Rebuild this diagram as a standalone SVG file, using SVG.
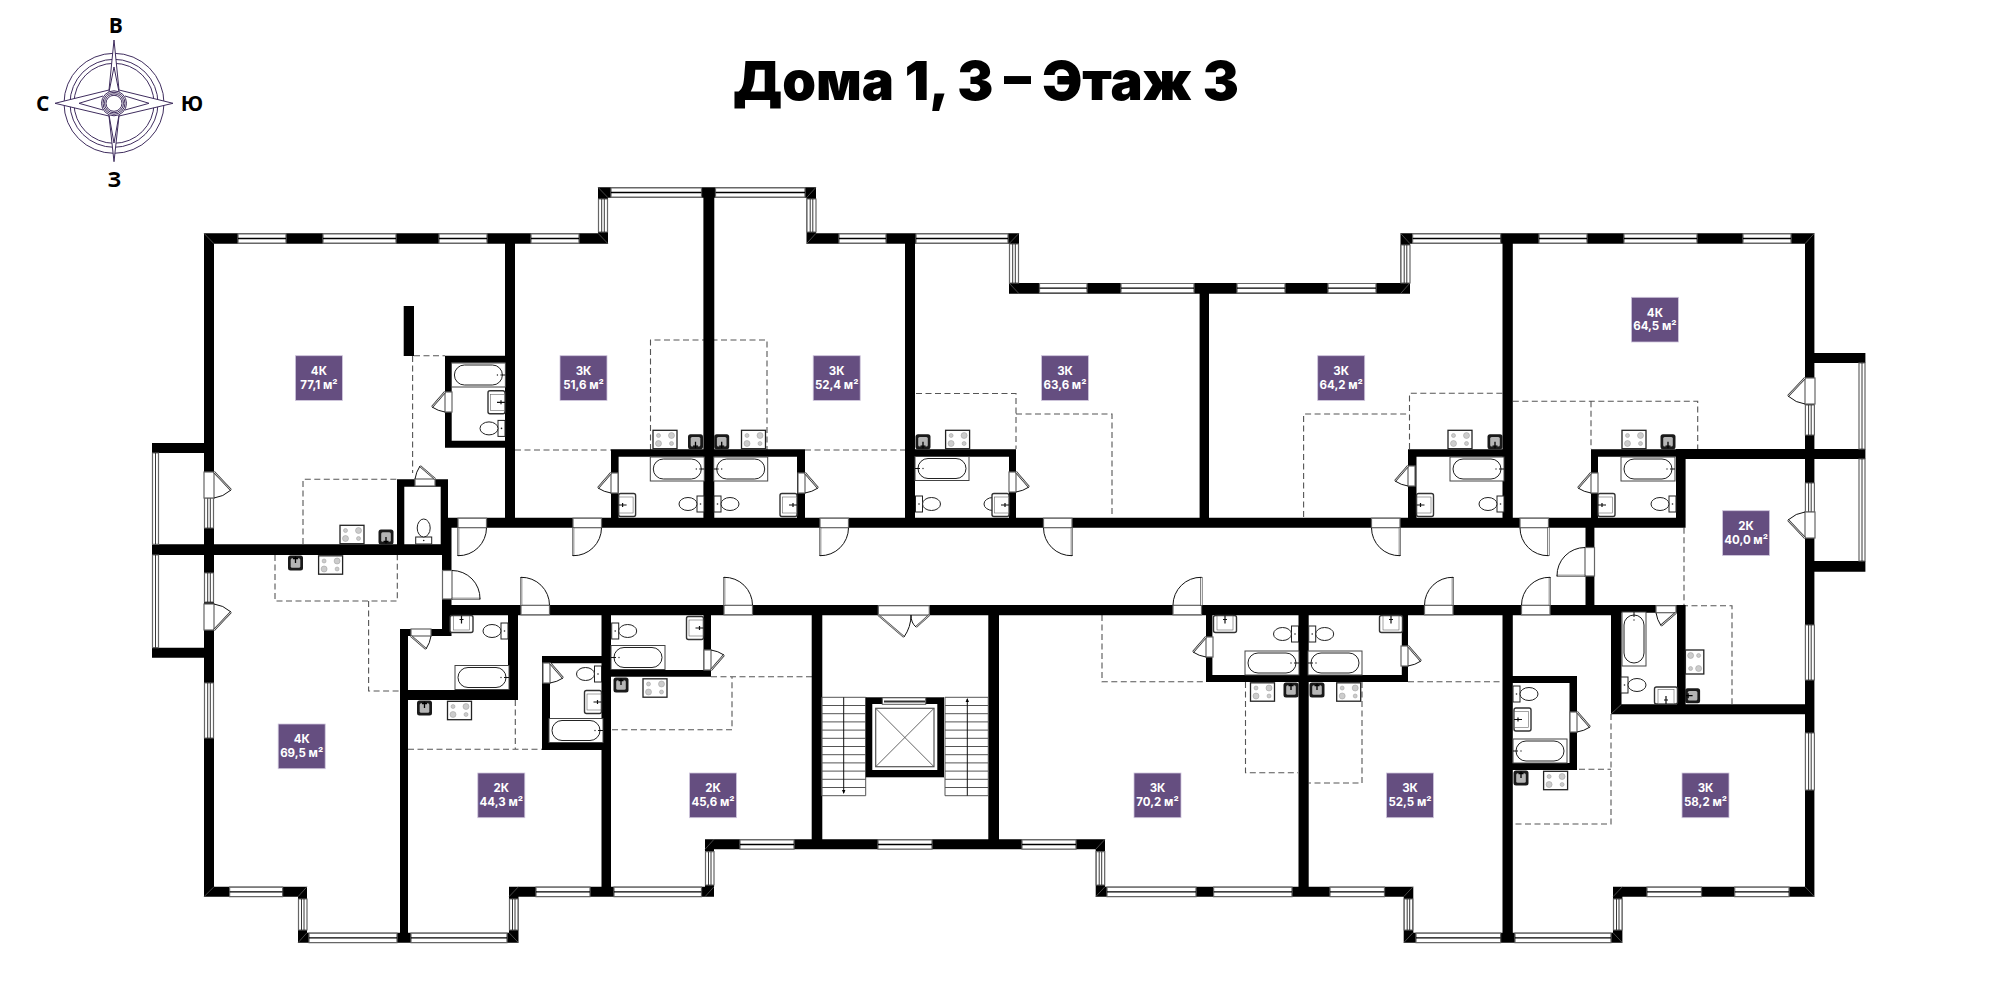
<svg xmlns="http://www.w3.org/2000/svg" xmlns:xlink="http://www.w3.org/1999/xlink" width="2000" height="1000" viewBox="0 0 2000 1000">
<style>
.wall{fill:#000}
.wf{fill:#fff;stroke:#666;stroke-width:1.2}
.wl{fill:none;stroke:#000;stroke-width:1.3}
.wv{fill:none;stroke:#222;stroke-width:.9}
.mit{fill:none;stroke:#666;stroke-width:.7}
.dash{fill:none;stroke:#555;stroke-width:1.1;stroke-dasharray:6 3.5}
.ln{fill:none;stroke:#111;stroke-width:1}
.lg{fill:none;stroke:#555;stroke-width:1}
.lb{fill:#654e80;stroke:#cfc6dc;stroke-width:.8}
.t{font-family:Inter,"Open Sans",sans-serif;font-weight:700;font-size:11.500px;fill:#fff;text-anchor:middle}
.title{font-family:Inter,"Liberation Sans",sans-serif;font-weight:900;font-size:54px;fill:#000;text-anchor:middle}
.cp{font-family:"Open Sans","Liberation Sans",sans-serif;font-weight:700;font-size:21px;fill:#000;text-anchor:middle}
.cl{fill:none;stroke:#3f2d5e;stroke-width:1}
</style>
<defs>
<g id="door"><rect class="wf" x="0" y="0.5" width="28.5" height="9.5"/><rect x="-.7" y="10" width="1.6" height="28" fill="#fff" stroke="#333" stroke-width=".6"/><path class="ln" d="M0 38A28 28 0 0 0 28.5 10"/></g>
<g id="bd"><rect class="wf" x="0" y="0" width="7" height="20"/><path d="M0 0L-13 15" fill="none" stroke="#333" stroke-width="2.2"/><path d="M0 0L-13 15" fill="none" stroke="#fff" stroke-width=".8"/><path class="ln" d="M-13 15Q-7 19 0 20"/></g>
<g id="bb"><rect class="wf" x="0" y="0" width="10" height="26"/><path d="M0 0L-17 18" fill="none" stroke="#333" stroke-width="2.2"/><path d="M0 0L-17 18" fill="none" stroke="#fff" stroke-width=".8"/><path class="ln" d="M-17 18Q-9 25 0 26"/></g>
<g id="bath"><rect x="-27" y="-12" width="54" height="24" fill="#fff" stroke="#444" stroke-width="1"/><rect x="-24" y="-10" width="48" height="20" rx="10" fill="#fff" stroke="#222" stroke-width="1"/><circle cx="19" cy="0" r=".7" fill="#222"/><path class="ln" d="M22 0H27"/></g>
<g id="wc"><rect x="-7" y="-8" width="7" height="16" fill="#fff" stroke="#222" stroke-width="1"/><ellipse cx="-16" cy="0" rx="9" ry="6.5" fill="#fff" stroke="#222" stroke-width="1"/><circle cx="-3.5" cy="0" r=".8" fill="#222"/></g>
<g id="sk"><rect x="-17" y="-11.5" width="17" height="23" rx="2" fill="#fff" stroke="#333" stroke-width="1.4"/><rect x="-14.5" y="-8" width="14" height="16" fill="#fff" stroke="#666" stroke-width=".6"/><path d="M-8 0H0M-4 -2V2" stroke="#111" stroke-width="1.2"/></g>
<g id="st"><rect x="-12" y="-9.2" width="24" height="18.4" fill="#fff" stroke="#222" stroke-width="1.3"/><g fill="#ccc" stroke="#999" stroke-width=".5"><circle cx="-6.5" cy="-4" r="2"/><circle cx="6.5" cy="-4" r="3"/><circle cx="-6.5" cy="4" r="3"/><circle cx="6.5" cy="4" r="2"/></g></g>
<g id="ks"><rect x="-7.5" y="-7.5" width="15" height="15" rx="2.500" fill="#1a1a1a"/><rect x="-4.800" y="-4.800" width="9.600" height="9.600" rx="1.500" fill="#b5b5b5"/><path d="M0 0V6.500M-2.500 4.500H2.500" stroke="#000" stroke-width="1.300"/></g>
</defs>
<rect width="2000" height="1000" fill="#fff"/>

<text class="title" x="986" y="100" textLength="506" lengthAdjust="spacingAndGlyphs">Дома 1, 3 – Этаж 3</text>

<g id="compass">
<circle class="cl" cx="114" cy="103.3" r="50"/><circle class="cl" cx="114" cy="103.3" r="44"/><circle class="cl" cx="114" cy="103.3" r="40"/>
<path class="cl" style="fill:#fff" d="M114 40L119 90L173 103.3L119 116L114 161.7L109 116L55 103.3L109 90Z"/>
<path class="cl" d="M114 67L119 92M114 67L109 92M114 143L119 115M114 143L109 115M149 103.3L125 96M149 103.3L125 110M79 103.3L103 96M79 103.3L103 110"/>
<circle class="cl" style="fill:#fff" cx="114" cy="103.3" r="12.5"/><circle class="cl" cx="114" cy="103.3" r="11"/><circle class="cl" cx="114" cy="103.3" r="9.5"/><circle class="cl" cx="114" cy="103.3" r="8"/>
<text class="cp" x="115.7" y="33">В</text><text class="cp" x="42.7" y="110.500">С</text><text class="cp" x="192" y="110.500">Ю</text><text class="cp" x="114.3" y="187">З</text>
</g>

<g id="dashed">
<path class="dash" d="M414 355.7H445M412.6 356V473M515 450H611M650.5 450V340H767V450M805 450H905M916 393.5H1016V449M1016 414H1112V517M1303.6 517V414H1409.5M1409.5 449V393.3H1502.5M1512.8 401.3H1697.7V449M1591 401.3V449M303 544V479.3H397M275 555V601H397.3V555M368.6 601V691H400M408 749.3H542M515.3 700V749.3M612 729.7H732V676.7M711 676.7H812M1102 615V681.7H1206M1408 681.7H1502.5M1245.5 682V772.7H1298M1362 682V783H1308.7M1611 714V824H1514.7M1569.5 769.3H1611M1684 527.7V605.7H1732V704"/>
</g>

<g id="walls">
<path class="wall" d="M204 233.3H608V243.7H204ZM598 187.3H816V197.7H598ZM598 187.3H608V243.7H598ZM806.5 187.3H816V243.7H806.5ZM806.5 233.3H1019V243.7H806.5ZM1009 233.3H1019V293.7H1009ZM1009 283H1410V293.7H1009ZM1400.5 233.3H1410V293.7H1400.5ZM1400.5 233.3H1814.4V243.7H1400.5ZM1805 233.3H1814.4V896.7H1805ZM204 233.3H214V896.7H204Z
M505 233.3H515V527.7H505ZM703.4 187.3H714.3V527.7H703.4ZM905 233.3H915V527.7H905ZM1199.6 283H1209V527.7H1199.6ZM1502.5 233.3H1512.8V527.7H1502.5Z
M403.7 306H414V356H403.7ZM445 355.7H505V362.7H445ZM445 355.7H451.7V447.7H445ZM445 440.7H505V447.7H445ZM397 479.3H448V486.7H397ZM397 479.3H404.3V555H397ZM440.7 479.3H448V555H440.7Z
M611 449.3H805V456.7H611ZM611 449.3H618.6V527.7H611ZM797 449.3H805V527.7H797ZM905 449.3H1016V456.7H905ZM1009 449.3H1016V527.7H1009ZM1408 449.3H1512.8V456.7H1408ZM1408 449.3H1416.5V527.7H1408ZM1591 449.3H1684V456.7H1591ZM1591 449.3H1598V527.7H1591ZM1676 449.3H1685.6V527.7H1676ZM1677 605H1685.6V714H1677ZM1676 449H1865.4V459H1676ZM1805 353H1865.4V363H1805ZM1805 561H1865.4V571.7H1805Z
M442 517.7H1684V527.7H442ZM442 605H1612V615.3H442ZM1612 605H1684V612.7H1612ZM442 517.7H451.5V636H442ZM1585.5 527.7H1594.4V615H1585.5ZM1611 605H1621.5V714H1611ZM1611 704.3H1814.4V714.3H1611Z
M152 544.3H451.5V555H152ZM152 443H204V453H152ZM152 647.7H204V657.7H152Z
M400 629H451.5V636H400ZM400 629H408V942.7H400ZM400 690H518V700H400ZM508 605H518V700H508ZM542 656H611V663.3H542ZM542 656H550V750H542ZM542 743H611V750H542ZM601.5 605H611V896.7H601.5ZM611 670H711V676.7H611ZM703.5 605H711V676.7H703.5Z
M811.7 605H822.3V849H811.7ZM988.3 605H999V849H988.3ZM705 839.3H1105V849.3H705ZM705 839.3H714V896.7H705ZM1095.7 839.3H1105V896.7H1095.7Z
M204 886.7H307V896.7H204ZM298 886.7H307V942.7H298ZM298 932.7H518.5V942.7H298ZM509 886.7H518.5V942.7H509ZM509 886.7H714V896.7H509ZM1095.7 886.7H1413V896.7H1095.7ZM1298.5 605H1308.7V896.7H1298.5ZM1502.5 605H1512.8V942.7H1502.5ZM1403.7 886.7H1413.3V942.7H1403.7ZM1403.7 932.7H1622.4V942.7H1403.7ZM1613 886.7H1622.4V942.7H1613ZM1613 886.7H1814.4V896.7H1613Z
M1512.8 676H1577V683H1512.8ZM1569.5 676H1577V770H1569.5ZM1512.8 763H1577V770H1512.8ZM1206 675H1408V682H1206ZM1206 605H1212.4V682H1206ZM1401.8 605H1408V682H1401.8Z"/>
<path class="mit" d="M204 233.3L214 243.7M598 187.3L608 197.7M816 187.3L806.500 197.700M598 233.300L608 243.700M816 233.300L806.500 243.700M1019 233.300L1009 243.700M1009 283L1019 293.700M1400.500 233.300L1410 243.700M1410 283L1400.500 293.700M1814.400 233.300L1805 243.700M204 896.700L214 886.700M307 886.700L298 896.700M298 942.700L307 932.700M518.500 942.700L509 932.700M509 896.700L518.500 886.700M705 849.300L714 839.300M714 886.700L705 896.700M1105 839.300L1095.700 849.300M1095.700 896.700L1105 886.700M1413 886.700L1403.700 896.700M1403.700 942.700L1413 932.700M1622.400 942.700L1613 932.700M1613 896.700L1622.400 886.700M1814.400 896.700L1805 886.700M1611 714L1621.500 704.300M865.700 697.300L872.300 704M944 697.300L937.300 704M865.700 777.300L872.300 770M944 777.300L937.300 770"/>
</g>

<g id="windows">
<path class="wf" d="M238 233.8h48v9.4h-48zM323 233.8h73v9.4h-73zM439 233.8h48v9.4h-48zM531 233.8h48v9.4h-48zM839 233.8h47v9.4h-47zM916 233.8h92v9.4h-92zM1412.6 233.8h88v9.4h-88zM1539 233.8h48v9.4h-48zM1624 233.8h73v9.4h-73zM1743 233.8h48v9.4h-48zM611 187.8h90.5v9.4h-90.5zM715.5 187.8h89.5v9.4h-89.5zM1039.5 283.5h47.5v9.4h-47.5zM1121 283.5h73v9.4h-73zM1237 283.5h48v9.4h-48zM1328 283.5h48v9.4h-48zM740 839.8h54v9.4h-54zM878 839.8h54v9.4h-54zM1022 839.8h54v9.4h-54zM229.6 887.2h53v9.4h-53zM536 887.2h54v9.4h-54zM614 887.2h87.5v9.4h-87.5zM1107 887.2h89v9.4h-89zM1213.6 887.2h78.4v9.4h-78.4zM1330 887.2h54.5v9.4h-54.5zM1647 887.2h54.5v9.4h-54.5zM1734.7 887.2h54.3v9.4h-54.3zM309 933.2h88v9.4h-88zM411 933.2h96v9.4h-96zM1416 933.2h84.6v9.4h-84.6zM1515 933.2h96v9.4h-96zM598.5 199h9v33h-9zM807 199h9v33h-9zM1009.5 244h9v39h-9zM1401 245h9v38h-9zM204.5 498h9v30h-9zM204.5 573h9v29h-9zM204.5 683h9v55h-9zM1805.4 405h9v30h-9zM1805.4 483h9v29h-9zM1805.4 625h9v55h-9zM1805.4 733h9v57h-9zM298.5 899h8.500v31h-8.500zM509.500 899h8.500v31h-8.500zM705.500 851.700h8.500v33.300h-8.500zM1096.200 851.700h8.500v33.300h-8.500zM1404.200 899h8.500v31h-8.500zM1613.500 899h8.500v31h-8.500zM152.500 453h6v91.300h-6zM152.500 555h6v92.700h-6zM1859 363h6v86h-6zM1859 459h6v102h-6z"/>
<path class="wl" d="M238 238.500h48M323 238.500h73M439 238.500h48M531 238.500h48M839 238.500h47M916 238.500h92M1412.600 238.500h88M1539 238.500h48M1624 238.500h73M1743 238.500h48M611 192.500h90.500M715.500 192.500h89.500M1039.500 288.200h47.500M1121 288.200h73M1237 288.200h48M1328 288.200h48M740 844.500h54M878 844.500h54M1022 844.500h54M229.600 891.900h53M536 891.900h54M614 891.900h87.500M1107 891.900h89M1213.600 891.900h78.400M1330 891.900h54.500M1647 891.900h54.500M1734.700 891.900h54.300M309 937.900h88M411 937.900h96M1416 937.900h84.600M1515 937.900h96"/>
<path class="wv" d="M601.700 199v33M604.300 199v33M810.200 199v33M812.800 199v33M1012.700 244v39M1015.300 244v39M1404.200 245v38M1406.800 245v38M207.700 498v30M210.300 498v30M207.700 573v29M210.300 573v29M207.700 683v55M210.300 683v55M1808.600 405v30M1811.200 405v30M1808.600 483v29M1811.200 483v29M1808.600 625v55M1811.200 625v55M1808.600 733v57M1811.200 733v57M301.500 899v31M304 899v31M512.500 899v31M515 899v31M708.500 851.700v33.300M711 851.700v33.300M1099.200 851.700v33.300M1101.700 851.700v33.300M1407.200 899v31M1409.700 899v31M1616.500 899v31M1619 899v31M155.500 453v91.300M155.500 555v92.700M1862 363v86M1862 459v102"/>
</g>

<g id="doors">
<use href="#door" transform="translate(458 517.700)"/><use href="#door" transform="translate(573 517.700)"/><use href="#door" transform="translate(820 517.700)"/>
<use href="#door" transform="translate(1072 517.700) scale(-1 1)"/><use href="#door" transform="translate(1400 517.700) scale(-1 1)"/><use href="#door" transform="translate(1548.500 517.700) scale(-1 1)"/>
<use href="#door" transform="translate(521 615.300) scale(1 -1)"/><use href="#door" transform="translate(724 615.300) scale(1 -1)"/>
<use href="#door" transform="translate(1201.500 615.300) scale(-1 -1)"/><use href="#door" transform="translate(1453 615.300) scale(-1 -1)"/><use href="#door" transform="translate(1550 615.300) scale(-1 -1)"/>
<use href="#door" transform="translate(442 599) rotate(-90)"/><use href="#door" transform="translate(1595 576) rotate(-90) scale(1 -1)"/>
<use href="#bd" transform="translate(445 392)"/><use href="#bd" transform="translate(611 473)"/><use href="#bd" transform="translate(805 473) scale(-1 1)"/><use href="#bd" transform="translate(1016 472) scale(-1 1)"/><use href="#bd" transform="translate(1408 466)"/><use href="#bd" transform="translate(1591 473)"/><use href="#bd" transform="translate(550 663) scale(-1 1)"/><use href="#bd" transform="translate(711 670) scale(-1 -1)"/><use href="#bd" transform="translate(1206 637)"/><use href="#bd" transform="translate(1408 646) scale(-1 1)"/><use href="#bd" transform="translate(1577 712) scale(-1 1)"/><use href="#bd" transform="translate(435 479) rotate(90)"/><use href="#bd" transform="translate(411 636) rotate(-90)"/><use href="#bd" transform="translate(1676 612.700) rotate(-90) scale(1 -1)"/>
<use href="#bb" transform="translate(214 472) scale(-1 1)"/><use href="#bb" transform="translate(214 630) scale(-1 -1)"/><use href="#bb" transform="translate(1805 378)"/><use href="#bb" transform="translate(1805 538) scale(1 -1)"/>
<g id="stair-door"><rect class="wf" x="878.300" y="605.700" width="51" height="9.300"/><path d="M878.300 615L904 637M929.300 615L916 627" fill="none" stroke="#444" stroke-width="2"/><path d="M878.300 615L904 637M929.300 615L916 627" fill="none" stroke="#fff" stroke-width=".7"/><path class="ln" d="M904 637Q911 627 911 615Q911 623 916 627"/></g>
</g>

<g id="core">
<path class="lg" d="M821.700 697.300H865.700V795.700H821.700ZM945 697.300H988.300V795.700H945ZM821.700 705.500H865.700M821.700 713.700H865.700M821.700 721.900H865.700M821.700 730.100H865.700M821.700 738.300H865.700M821.700 746.500H865.700M821.700 754.700H865.700M821.700 762.900H865.700M821.700 771.100H865.700M821.700 779.300H865.700M821.700 787.500H865.700M945 705.500H988.300M945 713.700H988.300M945 721.900H988.300M945 730.100H988.300M945 738.300H988.300M945 746.500H988.300M945 754.700H988.300M945 762.900H988.300M945 771.100H988.300M945 779.300H988.300M945 787.500H988.300"/>
<path class="ln" d="M843.700 697.300V793M967.300 699V795.700"/>
<path d="M843.700 794L842 790H845.400ZM967.300 698L965.600 702H969Z" fill="#000"/>
<rect x="865.700" y="697.300" width="78.300" height="80" fill="#000"/>
<rect x="872.300" y="704" width="65" height="66" fill="#fff"/>
<rect x="882.300" y="697.800" width="43.400" height="6.500" fill="#fff" stroke="#555" stroke-width="1"/>
<path d="M884 701.500H925" stroke="#333" stroke-width="2"/>
<rect x="875.700" y="708.300" width="58.300" height="58.400" fill="#fff" stroke="#555" stroke-width="1.200"/>
<path d="M875.700 708.300L934 766.700M934 708.300L875.700 766.700" stroke="#555" stroke-width=".9"/>
</g>

<g id="fixtures">
<use href="#bath" transform="translate(478.400 375)"/><use href="#bath" transform="translate(677.300 469)"/><use href="#bath" transform="translate(740.700 469) scale(-1 1)"/><use href="#bath" transform="translate(942 468.500) scale(-1 1)"/><use href="#bath" transform="translate(1477 469)"/><use href="#bath" transform="translate(1648 469)"/><use href="#bath" transform="translate(482 677.500)"/><use href="#bath" transform="translate(638 657.500) scale(-1 1)"/><use href="#bath" transform="translate(576 730.500)"/><use href="#bath" transform="translate(1272 663)"/><use href="#bath" transform="translate(1335 663) scale(-1 1)"/><use href="#bath" transform="translate(1540 751) scale(-1 1)"/><use href="#bath" transform="translate(1634 639) rotate(-90)"/>
<use href="#wc" transform="translate(505 428.400)"/><use href="#wc" transform="translate(423.700 544) rotate(90)"/><use href="#wc" transform="translate(704 504)"/><use href="#wc" transform="translate(714 504) scale(-1 1)"/><use href="#wc" transform="translate(915.500 504) scale(-1 1)"/><use href="#wc" transform="translate(1009 504)"/><use href="#wc" transform="translate(1504 504)"/><use href="#wc" transform="translate(1676 504)"/><use href="#wc" transform="translate(508 631)"/><use href="#wc" transform="translate(611.700 631) scale(-1 1)"/><use href="#wc" transform="translate(601.500 674)"/><use href="#wc" transform="translate(1298.500 634)"/><use href="#wc" transform="translate(1308.700 634) scale(-1 1)"/><use href="#wc" transform="translate(1513 694) scale(-1 1)"/><use href="#wc" transform="translate(1621 685) scale(-1 1)"/>
<use href="#sk" transform="translate(505 402.300)"/><use href="#sk" transform="translate(618.600 505) scale(-1 1)"/><use href="#sk" transform="translate(797 505)"/><use href="#sk" transform="translate(1009 505)"/><use href="#sk" transform="translate(1416.500 505) scale(-1 1)"/><use href="#sk" transform="translate(1598 505) scale(-1 1)"/><use href="#sk" transform="translate(461.500 615.500) rotate(-90)"/><use href="#sk" transform="translate(703.500 628)"/><use href="#sk" transform="translate(601.500 702)"/><use href="#sk" transform="translate(1225 615.500) rotate(-90)"/><use href="#sk" transform="translate(1391 615.500) rotate(-90)"/><use href="#sk" transform="translate(1514 719.500) scale(-1 1)"/><use href="#sk" transform="translate(1666 704) rotate(90)"/>
<use href="#st" transform="translate(665 439.500)"/><use href="#st" transform="translate(753.500 439.500)"/><use href="#st" transform="translate(957.600 439.500)"/><use href="#st" transform="translate(1460 439.500)"/><use href="#st" transform="translate(1634 439.500)"/><use href="#st" transform="translate(352 534.500)"/><use href="#st" transform="translate(330.600 565)"/><use href="#st" transform="translate(459.500 710.500)"/><use href="#st" transform="translate(655 688)"/><use href="#st" transform="translate(1262.500 692)"/><use href="#st" transform="translate(1348.700 692)"/><use href="#st" transform="translate(1555.600 780.500)"/><use href="#st" transform="translate(1694.600 662) rotate(90)"/>
<use href="#ks" transform="translate(695.500 441.700)"/><use href="#ks" transform="translate(721.700 441.700)"/><use href="#ks" transform="translate(923 441.700)"/><use href="#ks" transform="translate(1495 441.700)"/><use href="#ks" transform="translate(1668 441.700)"/><use href="#ks" transform="translate(386 537)"/><use href="#ks" transform="translate(295.500 563) rotate(180)"/><use href="#ks" transform="translate(424.500 708) rotate(180)"/><use href="#ks" transform="translate(621 685) rotate(180)"/><use href="#ks" transform="translate(1291 690) rotate(180)"/><use href="#ks" transform="translate(1317 690) rotate(180)"/><use href="#ks" transform="translate(1521 778) rotate(180)"/><use href="#ks" transform="translate(1692.600 695.700) rotate(90)"/>
</g>

<g id="labels">
<g id="apt-1"><rect class="lb" x="295.400" y="355.700" width="47" height="44.700"/><text class="t" x="318.900" y="375">4К</text><text class="t" x="318.900" y="388.500">77,1 м²</text></g>
<g id="apt-2"><rect class="lb" x="560" y="355.700" width="47" height="44.700"/><text class="t" x="583.500" y="375">3К</text><text class="t" x="583.500" y="388.500">51,6 м²</text></g>
<g id="apt-3"><rect class="lb" x="813.200" y="355.700" width="47" height="44.700"/><text class="t" x="836.700" y="375">3К</text><text class="t" x="836.700" y="388.500">52,4 м²</text></g>
<g id="apt-4"><rect class="lb" x="1041.500" y="355.700" width="47" height="44.700"/><text class="t" x="1065" y="375">3К</text><text class="t" x="1065" y="388.500">63,6 м²</text></g>
<g id="apt-5"><rect class="lb" x="1317.700" y="355.700" width="47" height="44.700"/><text class="t" x="1341.200" y="375">3К</text><text class="t" x="1341.200" y="388.500">64,2 м²</text></g>
<g id="apt-6"><rect class="lb" x="1631.400" y="297.300" width="47" height="44.700"/><text class="t" x="1654.900" y="316.600">4К</text><text class="t" x="1654.900" y="330.100">64,5 м²</text></g>
<g id="apt-7"><rect class="lb" x="1722.600" y="510.700" width="47" height="44.700"/><text class="t" x="1746.100" y="530">2К</text><text class="t" x="1746.100" y="543.500">40,0 м²</text></g>
<g id="apt-8"><rect class="lb" x="278.200" y="724" width="47" height="44.700"/><text class="t" x="301.700" y="743.300">4К</text><text class="t" x="301.700" y="756.800">69,5 м²</text></g>
<g id="apt-9"><rect class="lb" x="477.800" y="773" width="47" height="44.700"/><text class="t" x="501.300" y="792.300">2К</text><text class="t" x="501.300" y="805.800">44,3 м²</text></g>
<g id="apt-10"><rect class="lb" x="689.500" y="773" width="47" height="44.700"/><text class="t" x="713" y="792.300">2К</text><text class="t" x="713" y="805.800">45,6 м²</text></g>
<g id="apt-11"><rect class="lb" x="1134" y="773" width="47" height="44.700"/><text class="t" x="1157.500" y="792.300">3К</text><text class="t" x="1157.500" y="805.800">70,2 м²</text></g>
<g id="apt-12"><rect class="lb" x="1386.500" y="773" width="47" height="44.700"/><text class="t" x="1410" y="792.300">3К</text><text class="t" x="1410" y="805.800">52,5 м²</text></g>
<g id="apt-13"><rect class="lb" x="1682" y="773" width="47" height="44.700"/><text class="t" x="1705.500" y="792.300">3К</text><text class="t" x="1705.500" y="805.800">58,2 м²</text></g>
</g>
</svg>
